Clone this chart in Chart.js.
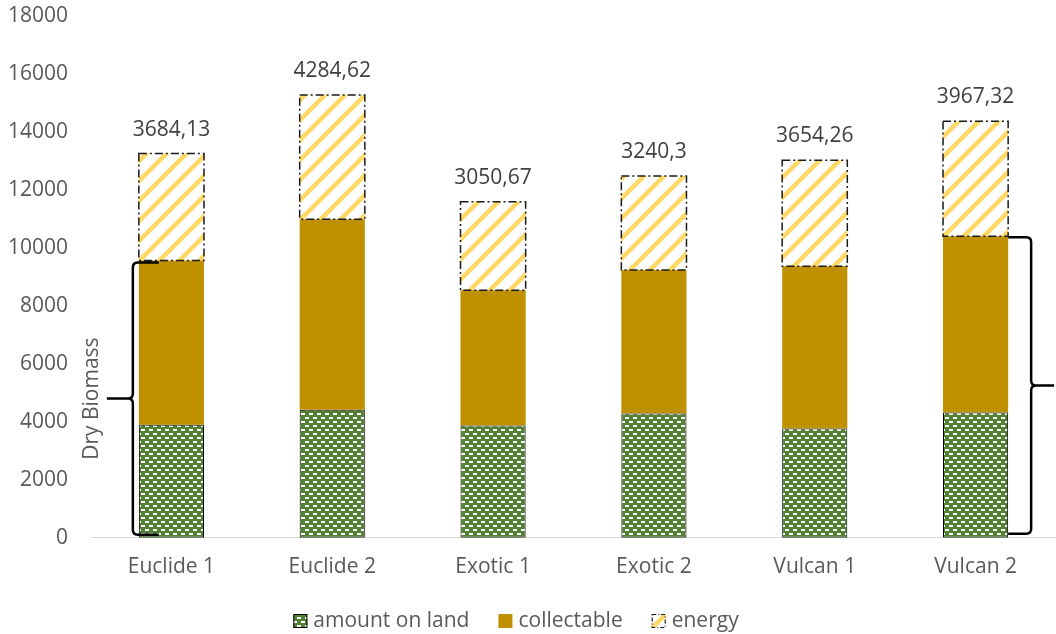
<!DOCTYPE html>
<html lang="en">
<head>
<meta charset="UTF-8">
<title>Dry Biomass</title>
<script src="https://cdn.jsdelivr.net/npm/chart.js"></script>
<style>
    body { margin: 0; background: #ffffff; }
    #wrap { width: 1056px; height: 634px; }
</style>
</head>
<body>
<div id="wrap"><canvas id="biomassChart" width="1056" height="634"></canvas></div>
<script>
    // stacked biomass per site
    const categories = ['Euclide 1', 'Euclide 2', 'Exotic 1', 'Exotic 2', 'Vulcan 1', 'Vulcan 2'];
    const amountOnLand = [3900, 4420, 3870, 4290, 3770, 4320];
    const collectable = [5670, 6570, 4670, 4950, 5600, 6080];
    const energy = [3684.13, 4284.62, 3050.67, 3240.3, 3654.26, 3967.32];
    const seriesNames = ['amount on land', 'collectable', 'energy'];
    const yMax = 18000;
    const yStep = 2000;

    const FONT = "'Open Sans', sans-serif";
    const TEXT = '#595959';

    // green fill with small white dashes
    function dashPattern() {
        const c = document.createElement('canvas');
        c.width = 8; c.height = 8;
        const g = c.getContext('2d');
        g.fillStyle = '#548235';
        g.fillRect(0, 0, 8, 8);
        g.fillStyle = '#ffffff';
        g.fillRect(1, 1, 4, 2);
        g.fillRect(5, 5, 4, 2);
        g.fillRect(-3, 5, 4, 2);
        return g.createPattern(c, 'repeat');
    }

    // white fill with yellow diagonal stripes
    function stripePattern() {
        const s = 20;
        const c = document.createElement('canvas');
        c.width = s; c.height = s;
        const g = c.getContext('2d');
        g.fillStyle = '#ffffff';
        g.fillRect(0, 0, s, s);
        g.strokeStyle = '#FFD966';
        g.lineWidth = 4.5;
        g.beginPath();
        g.moveTo(-4, s + 4); g.lineTo(s + 4, -4);
        g.moveTo(-4, 4); g.lineTo(4, -4);
        g.moveTo(s - 4, s + 4); g.lineTo(s + 4, s - 4);
        g.stroke();
        return g.createPattern(c, 'repeat');
    }

    const landFill = dashPattern();
    const energyFill = stripePattern();

    function drawBrace(ctx, xLine, xEnd, xTip, yTop, yBottom) {
        const yMid = (yTop + yBottom) / 2;
        const d = xEnd > xLine ? 1 : -1;   // side where the ends curl
        const r = 5;
        ctx.beginPath();
        ctx.moveTo(xEnd, yTop);
        ctx.lineTo(xLine + d * r, yTop);
        ctx.quadraticCurveTo(xLine, yTop, xLine, yTop + r);
        ctx.lineTo(xLine, yMid - r);
        ctx.quadraticCurveTo(xLine, yMid, xLine - d * r, yMid);
        ctx.lineTo(xTip, yMid);
        ctx.moveTo(xLine - d * r, yMid);
        ctx.quadraticCurveTo(xLine, yMid, xLine, yMid + r);
        ctx.lineTo(xLine, yBottom - r);
        ctx.quadraticCurveTo(xLine, yBottom, xLine + d * r, yBottom);
        ctx.lineTo(xEnd, yBottom);
        ctx.stroke();
    }

    const extras = {
        id: 'extras',
        afterDatasetsDraw(chart) {
            const ctx = chart.ctx;
            const y = chart.scales.y;
            const energyMeta = chart.getDatasetMeta(2);
            const collMeta = chart.getDatasetMeta(1);

            ctx.save();
            // dash-dot outline and value label on the energy blocks
            ctx.strokeStyle = '#1a1a1a';
            ctx.lineWidth = 1.5;
            ctx.setLineDash([8, 3, 2, 3]);
            energyMeta.data.forEach(el => {
                const left = el.x - el.width / 2;
                ctx.strokeRect(left, el.y, el.width, el.base - el.y);
            });
            ctx.setLineDash([]);
            ctx.font = '21px ' + FONT;
            ctx.fillStyle = '#404040';
            ctx.textAlign = 'center';
            ctx.textBaseline = 'middle';
            energyMeta.data.forEach((el, i) => {
                ctx.fillText(String(energy[i]).replace('.', ','), el.x, el.y - 24);
            });

            // braces grouping land + collectable
            ctx.strokeStyle = '#000000';
            ctx.lineWidth = 2.5;
            const first = collMeta.data[0];
            const fLeft = first.x - first.width / 2;
            const base = y.getPixelForValue(0) - 3;
            drawBrace(ctx, fLeft - 6, fLeft + 20, fLeft - 32, first.y + 2, base);
            const last = collMeta.data[collMeta.data.length - 1];
            const lRight = last.x + last.width / 2;
            drawBrace(ctx, lRight + 23, lRight, lRight + 46, last.y + 1, base - 1);

            // annotation next to the left brace
            const mid = (first.y + 2 + base) / 2;
            ctx.translate(fLeft - 47, mid);
            ctx.rotate(-Math.PI / 2);
            ctx.fillStyle = TEXT;
            ctx.fillText('Dry Biomass', 0, 0);
            ctx.restore();

            // legend
            ctx.save();
            ctx.font = '21px ' + FONT;
            ctx.textBaseline = 'middle';
            const fills = [landFill, '#BF9000', energyFill];
            const box = 14, gapText = 6, gapItem = 29;
            const widths = seriesNames.map(n => ctx.measureText(n).width);
            let total = 0;
            widths.forEach((w, i) => { total += box + gapText + w + (i ? gapItem : 0); });
            let x = 516 - total / 2;
            const ly = 621;
            seriesNames.forEach((n, i) => {
                ctx.fillStyle = fills[i];
                ctx.fillRect(x, ly - 7, box, box);
                if (i === 0) {
                    ctx.strokeStyle = '#000'; ctx.lineWidth = 1;
                    ctx.strokeRect(x + 0.5, ly - 6.5, box - 1, box - 1);
                }
                if (i === 2) {
                    ctx.strokeStyle = '#1a1a1a'; ctx.lineWidth = 1.2;
                    ctx.setLineDash([4, 2, 1, 2]);
                    ctx.strokeRect(x + 0.5, ly - 6.5, box - 1, box - 1);
                    ctx.setLineDash([]);
                }
                ctx.fillStyle = TEXT;
                ctx.textAlign = 'left';
                ctx.fillText(n, x + box + gapText, ly);
                x += box + gapText + widths[i] + gapItem;
            });
            ctx.restore();
        }
    };

    const ctx = document.getElementById('biomassChart').getContext('2d');
    new Chart(ctx, {
        type: 'bar',
        data: {
            labels: categories,
            datasets: [
                {
                    label: seriesNames[0],
                    data: amountOnLand,
                    backgroundColor: landFill,
                    borderColor: '#000000',
                    borderWidth: 1,
                    borderSkipped: false
                },
                {
                    label: seriesNames[1],
                    data: collectable,
                    backgroundColor: '#BF9000',
                    borderWidth: 0
                },
                {
                    label: seriesNames[2],
                    data: energy,
                    backgroundColor: energyFill,
                    borderWidth: 0
                }
            ]
        },
        options: {
            responsive: false,
            animation: false,
            layout: { padding: { top: 0, right: 0, bottom: 37, left: 0 } },
            datasets: { bar: { barPercentage: 0.405, categoryPercentage: 1 } },
            plugins: {
                legend: { display: false },
                tooltip: { enabled: false }
            },
            scales: {
                x: {
                    stacked: true,
                    grid: { display: false, drawTicks: false },
                    border: { display: true, color: '#D9D9D9', width: 1 },
                    ticks: { color: TEXT, font: { family: FONT, size: 21 }, padding: 17 }
                },
                y: {
                    stacked: true,
                    min: 0,
                    max: yMax,
                    grid: { display: false, drawTicks: false },
                    border: { display: false },
                    ticks: {
                        stepSize: yStep,
                        color: TEXT,
                        font: { family: FONT, size: 21 },
                        padding: 23,
                        callback: v => String(v)
                    },
                    afterFit(scale) {
                        scale.width = 91;
                        scale.paddingTop = 16;
                        scale.paddingBottom = 12;
                    }
                }
            }
        },
        plugins: [extras]
    });
</script>
</body>
</html>
